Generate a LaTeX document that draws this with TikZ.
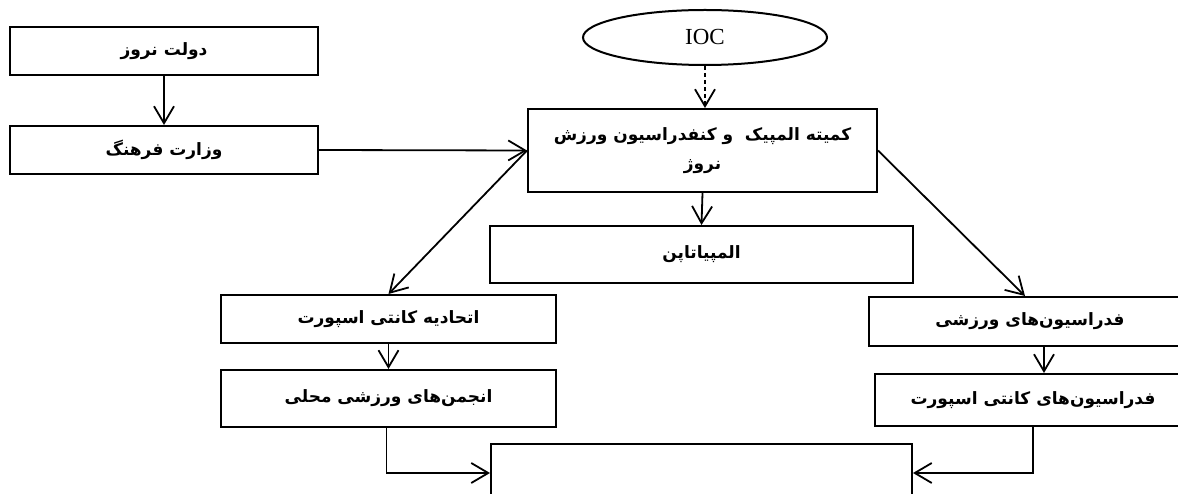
\documentclass[tikz,border=0pt]{standalone}
\usepackage{fontspec}
\setmainfont{Liberation Serif}
\newfontfamily\arabicfont[Script=Arabic]{DejaVu Sans}
\TeXXeTstate=1
\usetikzlibrary{shapes.geometric,arrows.meta,calc}
\tikzset{
  box/.style={draw, line width=2pt, rectangle, inner sep=0pt, font=\arabicfont\bfseries\fontsize{17}{29}\selectfont, align=center},
  conn/.style={line width=1.8pt, -{Straight Barb[length=17pt,width=20pt,line width=1.8pt]}},
}
\begin{document}
\begin{tikzpicture}[x=1pt,y=-1pt]
\useasboundingbox (0,0) rectangle (1178,494);
\node[box, minimum width=308pt, minimum height=48pt] (dolat) at (164,51) {\beginR دولت نروز\endR};
\node[box, minimum width=308pt, minimum height=48pt] (vezarat) at (164,150) {\beginR وزارت فرهنگ\endR};
\node[draw, line width=2pt, ellipse, minimum width=244pt, minimum height=55pt, inner sep=0pt, font=\fontsize{23}{26}\selectfont] (ioc) at (705,37.5) {IOC};
\node[box, minimum width=349pt, minimum height=83pt] (komite) at (702.5,150.5) {\beginR کمیته المپیک\ \ و کنفدراسیون ورزش\endR\\\beginR نروژ\endR};
\node[box, minimum width=423pt, minimum height=57pt] (olymp) at (701.5,254.5) {\beginR المپیاتاپن\endR};
\node[box, minimum width=335pt, minimum height=48pt] (ettehad) at (388.5,319) {\beginR اتحادیه کانتی اسپورت\endR};
\node[box, minimum width=335pt, minimum height=57pt] (anjoman) at (388.5,398.5) {\beginR انجمن‌های ورزشی محلی\endR};
\node[box, minimum width=322pt, minimum height=49pt] (fedA) at (1030,321.5) {\beginR فدراسیون‌های ورزشی\endR};
\node[box, minimum width=316pt, minimum height=52pt] (fedB) at (1033,400) {\beginR فدراسیون‌های کانتی اسپورت\endR};
\node[box, minimum width=421pt, minimum height=58pt] (bottom) at (701.5,473) {};
\draw[conn] (dolat.south) -- (vezarat.north);
\draw[conn] (vezarat.east) -- (komite.west);
\draw[conn, dash pattern=on 4pt off 3pt] (ioc.south) -- (ioc.south |- komite.north);
\draw[conn] (komite.south) -- (olymp.north);
\draw[conn] (komite.west) -- (ettehad.north);
\draw[conn] (komite.east) -- ([xshift=-5pt]fedA.north);
\draw[conn] (ettehad.south) -- (anjoman.north);
\coordinate (fa) at ([xshift=14pt]fedA.south);
\draw[conn] (fa) -- (fa |- fedB.north);
\draw[conn] ([xshift=-2pt]anjoman.south) |- (bottom.west);
\draw[conn] (fedB.south) |- (bottom.east);
\end{tikzpicture}
\end{document}
